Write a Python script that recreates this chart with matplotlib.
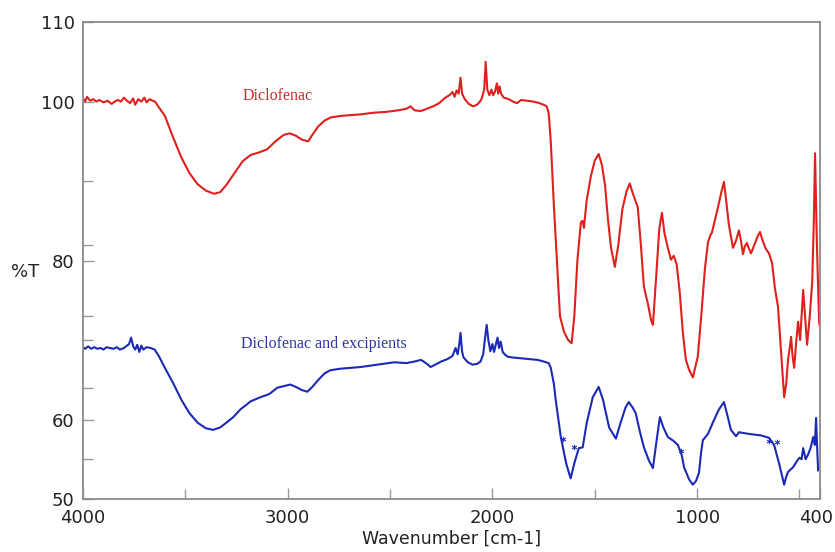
import matplotlib.pyplot as plt
from matplotlib.ticker import FixedLocator
from matplotlib.transforms import ScaledTranslation

# FTIR spectra, wavenumber [cm-1] vs %T
wn_api = [4000, 3990, 3980, 3965, 3950, 3935, 3920, 3900, 3880, 3860, 3845, 3830, 3815,
          3800, 3785, 3770, 3755, 3745, 3730, 3715, 3700, 3690, 3675, 3660, 3648, 3630,
          3600, 3560, 3520, 3480, 3440, 3400, 3360, 3330, 3300, 3260, 3220, 3180, 3140,
          3100, 3060, 3020, 2990, 2960, 2930, 2900, 2880, 2850, 2820, 2790, 2740, 2690,
          2640, 2580, 2520, 2460, 2420, 2400, 2380, 2350, 2320, 2290, 2260, 2230, 2210,
          2195, 2185, 2175, 2165, 2156, 2148, 2135, 2115, 2095, 2075, 2055, 2040, 2033,
          2025, 2015, 2005, 1997, 1988, 1978, 1972, 1965, 1958, 1945, 1920, 1900, 1880,
          1860, 1830, 1800, 1770, 1750, 1735, 1725, 1715, 1700, 1685, 1670, 1650, 1630,
          1613, 1600, 1585, 1568, 1560, 1553, 1540, 1520, 1500, 1481, 1465, 1450, 1435,
          1420, 1402, 1385, 1365, 1345, 1329, 1315, 1290, 1275, 1260, 1240, 1225, 1216,
          1200, 1185, 1172, 1160, 1145, 1128, 1114, 1100, 1085, 1070, 1055, 1040, 1021,
          1010, 997, 980, 962, 947, 935, 928, 900, 880, 869, 858, 845, 825, 810, 796,
          786, 776, 767, 757, 747, 737, 720, 705, 693, 680, 665, 649, 634, 620, 605, 590,
          575, 565, 556, 545, 541, 534, 526, 517, 507, 497, 482, 470, 463, 450, 438, 430,
          424, 415, 404, 400]
t_api = [100.4, 100.0, 100.6, 100.1, 100.3, 100.0, 100.2, 99.9, 100.1, 99.7, 100.0, 100.2,
         100.0, 100.5, 100.1, 99.8, 100.4, 99.6, 100.3, 100.0, 100.5, 99.9, 100.3, 100.1,
         100.0, 99.3, 98.2, 95.5, 93.0, 91.0, 89.6, 88.8, 88.4, 88.6, 89.5, 91.0, 92.5,
         93.3, 93.6, 94.0, 95.0, 95.8, 96.0, 95.7, 95.2, 95.0, 95.8, 96.9, 97.6, 98.0,
         98.2, 98.3, 98.4, 98.6, 98.7, 98.9, 99.1, 99.4, 98.9, 98.8, 99.1, 99.4, 99.8,
         100.5, 100.8, 101.2, 100.6, 101.4, 101.0, 103.0, 101.0, 100.3, 99.7, 99.4, 99.6,
         100.2, 101.5, 105.0, 101.5, 100.8, 101.5, 100.8, 101.2, 102.3, 101.0, 101.9, 101.0,
         100.5, 100.3, 100.0, 99.8, 100.2, 100.1, 100.0, 99.8, 99.6, 99.4, 98.5, 95.0,
         87.0, 80.0, 73.0, 71.0, 70.0, 69.6, 73.0, 80.0, 84.8, 85.0, 84.1, 87.5, 90.5,
         92.6, 93.4, 92.0, 89.5, 85.0, 81.5, 79.2, 82.0, 86.5, 88.7, 89.7, 88.5, 86.7,
         82.0, 76.7, 74.5, 72.5, 71.9, 78.0, 84.0, 86.0, 83.5, 81.8, 80.1, 80.6, 79.5,
         76.0, 71.0, 67.5, 66.3, 65.3, 66.5, 67.9, 73.0, 79.0, 82.3, 83.2, 83.5, 86.5,
         88.8, 89.9, 87.5, 84.5, 81.6, 82.5, 83.8, 82.5, 80.8, 81.8, 82.2, 81.5, 80.9,
         82.0, 83.0, 83.6, 82.5, 81.5, 80.9, 79.7, 76.5, 74.2, 68.5, 62.8, 64.5, 67.5,
         69.5, 70.4, 68.0, 66.5, 69.5, 72.3, 70.0, 76.3, 72.0, 69.4, 73.0, 77.2, 85.0,
         93.5, 82.0, 72.1, 71.8]

wn_mix = [4000, 3990, 3975, 3960, 3945, 3930, 3915, 3900, 3885, 3870, 3850, 3835, 3820,
          3800, 3785, 3775, 3765, 3755, 3745, 3735, 3725, 3715, 3705, 3690, 3670, 3650,
          3630, 3600, 3560, 3520, 3480, 3440, 3400, 3364, 3330, 3300, 3266, 3230, 3180,
          3134, 3090, 3051, 3020, 2987, 2960, 2930, 2904, 2880, 2850, 2820, 2792, 2740,
          2690, 2645, 2590, 2537, 2480, 2420, 2380, 2350, 2342, 2320, 2302, 2280, 2250,
          2220, 2195, 2180, 2170, 2162, 2156, 2148, 2141, 2120, 2097, 2075, 2058, 2045,
          2035, 2028, 2020, 2010, 2000, 1992, 1982, 1975, 1968, 1960, 1950, 1940, 1926,
          1900, 1862, 1820, 1779, 1750, 1725, 1715, 1700, 1691, 1666, 1640, 1618, 1600,
          1578, 1559, 1540, 1510, 1481, 1460, 1430, 1397, 1375, 1350, 1334, 1315, 1300,
          1280, 1260, 1235, 1216, 1200, 1182, 1165, 1143, 1115, 1094, 1075, 1064, 1040,
          1021, 1005, 991, 980, 972, 947, 920, 895, 869, 852, 835, 810, 796, 750, 688,
          649, 624, 600, 575, 565, 556, 540, 531, 517, 500, 490, 482, 470, 458, 445, 433,
          425, 419, 413, 409]
t_mix = [69.1, 68.9, 69.2, 68.9, 69.1, 68.9, 69.0, 68.8, 69.1, 69.0, 68.9, 69.1, 68.8,
         69.0, 69.3, 69.5, 70.3, 69.2, 68.8, 69.4, 68.5, 69.3, 68.8, 69.1, 69.0, 68.8,
         68.0, 66.5, 64.6, 62.5, 60.8, 59.6, 58.9, 58.7, 59.0, 59.6, 60.3, 61.3, 62.3,
         62.8, 63.2, 64.0, 64.2, 64.4, 64.1, 63.7, 63.5, 64.1, 65.0, 65.8, 66.2, 66.4,
         66.5, 66.6, 66.8, 67.0, 67.2, 67.1, 67.3, 67.5, 67.4, 67.0, 66.6, 66.9, 67.3,
         67.6, 68.0, 69.0, 68.2, 69.5, 70.9, 68.5, 67.8, 67.2, 66.9, 67.0, 67.3, 68.2,
         70.5, 71.9, 70.0, 68.6, 69.5, 68.5, 69.6, 70.3, 69.0, 69.8, 68.5, 68.2, 67.9,
         67.8, 67.7, 67.6, 67.5, 67.3, 67.1, 66.5, 64.5, 62.5, 57.8, 54.5, 52.6, 54.5,
         56.4, 56.5, 59.5, 62.8, 64.1, 62.5, 59.0, 57.6, 59.5, 61.5, 62.2, 61.5, 60.8,
         58.5, 56.5, 54.8, 53.9, 57.0, 60.3, 59.0, 57.8, 57.3, 56.8, 55.5, 54.0, 52.5,
         51.8, 52.3, 53.3, 56.0, 57.4, 58.2, 59.8, 61.2, 62.2, 60.5, 58.7, 57.9, 58.4,
         58.2, 58.0, 57.7, 56.8, 54.5, 51.8, 52.8, 53.4, 53.8, 54.0, 54.6, 55.2, 55.0,
         56.4, 55.0, 55.6, 56.5, 57.8, 56.8, 60.2, 56.0, 53.6]

# stray marks left on the lower trace
star_wn = [1655, 1600, 1080, 650, 610]
star_t = [57.5, 56.5, 56.0, 57.3, 57.2]

x_major = [4000, 3000, 2000, 1000, 400]
x_minor = [3500, 2500, 1500, 500]
y_major = [50, 60, 80, 100, 110]
y_minor = [55, 64, 70, 73, 82, 90]

red = '#e0201c'
blue = '#1a2ab4'

fig = plt.figure(figsize=(8.35, 5.52), dpi=100)
ax = fig.add_axes([0.0994, 0.096, 0.8826, 0.864])

ax.plot(wn_api, t_api, color=red, lw=1.5)
ax.plot(wn_mix, t_mix, color=blue, lw=1.5)
ax.scatter(star_wn, star_t, marker='$*$', s=14, color=blue, lw=0.3)

ax.text(3222, 100.2, 'Diclofenac', color='#cc2a2a', fontsize=11.5,
        family='Liberation Serif')
ax.text(3230, 69.0, 'Diclofenac and excipients', color='#2a35a0',
        fontsize=11.5, family='Liberation Serif')

ax.set_xlim(4000, 400)
ax.set_ylim(50, 110)
ax.xaxis.set_major_locator(FixedLocator(x_major))
ax.xaxis.set_minor_locator(FixedLocator(x_minor))
ax.yaxis.set_major_locator(FixedLocator(y_major))
ax.yaxis.set_minor_locator(FixedLocator(y_minor))

ax.tick_params(which='both', direction='in', color='#999999', labelsize=13,
               labelcolor='#222222')
ax.tick_params(which='major', length=8, width=1)
ax.tick_params(which='minor', length=7, width=1)
ax.tick_params(axis='x', pad=7)
ax.tick_params(axis='y', pad=6)

# pull the last wavenumber label in so it stays on the canvas
last = ax.get_xticklabels()[-1]
last.set_transform(last.get_transform() + ScaledTranslation(-3 / 72, 0, fig.dpi_scale_trans))

for s in ax.spines.values():
    s.set_color('#8a8a8a')
    s.set_linewidth(1.3)

ax.set_xlabel('Wavenumber [cm-1]', fontsize=12.5, labelpad=2, color='#222222')
ax.set_ylabel('%T', fontsize=13, rotation=0, color='#222222', ha='center', va='center')
ax.yaxis.set_label_coords(-0.079, 0.477)

fig.savefig('out.png', dpi=100)
